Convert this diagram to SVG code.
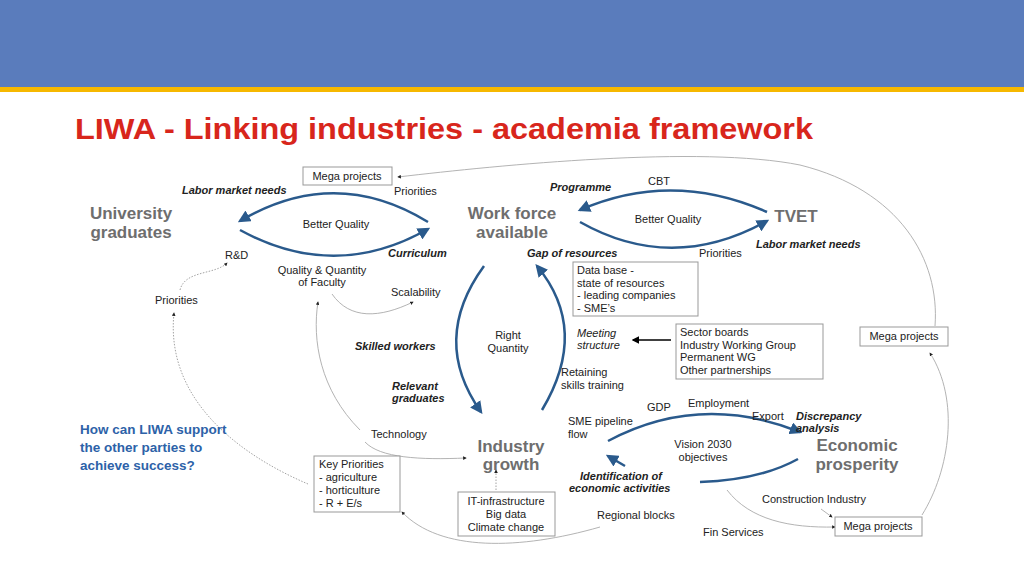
<svg xmlns="http://www.w3.org/2000/svg" width="1024" height="575" viewBox="0 0 1024 575">
<style>
text{font-family:"Liberation Sans",Arial,sans-serif;fill:#222}
.big{font-size:17px;font-weight:bold;fill:#6e6e6e}
.s{font-size:11px}
.bi{font-size:11px;font-weight:bold;font-style:italic}
.it{font-size:11px;font-style:italic}
.box{fill:#fff;stroke:#999;stroke-width:1}
.blue{fill:none;stroke:#2a5a8c;stroke-width:2.5}
.thin{fill:none;stroke:#999;stroke-width:0.9;stroke-dasharray:1.5 1.5}
.thinS{fill:none;stroke:#aaa;stroke-width:0.9}
</style>
<defs>
<marker id="ab" viewBox="0 0 10 10" refX="8" refY="5" markerWidth="5" markerHeight="5" orient="auto"><path d="M0,0L10,5L0,10z" fill="#2a5a8c"/></marker>
<marker id="ad" viewBox="0 0 10 10" refX="8" refY="5" markerWidth="4" markerHeight="4" orient="auto"><path d="M0,0L10,5L0,10z" fill="#222"/></marker>
<marker id="ak" viewBox="0 0 10 10" refX="8" refY="5" markerWidth="5" markerHeight="5" orient="auto"><path d="M0,0L10,5L0,10z" fill="#000"/></marker>
</defs>
<rect width="1024" height="575" fill="#fff"/>
<rect width="1024" height="87" fill="#5a7cbc"/>
<rect y="87" width="1024" height="5" fill="#f6b800"/>
<text x="75" y="139" textLength="738" lengthAdjust="spacingAndGlyphs" style="font-size:29px;font-weight:bold;fill:#d8261c">LIWA - Linking industries - academia framework</text>

<g id="connectors">
<path class="blue" marker-end="url(#ab)" d="M428,222 Q335,165 240,221"/>
<path class="blue" marker-end="url(#ab)" d="M240,230 Q335,282 428,229"/>
<path class="blue" marker-end="url(#ab)" d="M767,212 Q672,170 580,210"/>
<path class="blue" marker-end="url(#ab)" d="M580,222 Q672,274 767,221"/>
<path class="blue" marker-end="url(#ab)" d="M484,266 Q430,340 481,412"/>
<path class="blue" marker-end="url(#ab)" d="M542,410 Q590,330 537,266"/>
<path class="blue" marker-end="url(#ab)" d="M608,441 Q700,392 800,432"/>
<path class="blue" d="M798,459 Q760,480 700,482"/>
<path class="blue" marker-end="url(#ab)" d="M625,466 L608,456"/>
<path d="M671,340 L633,340" stroke="#000" stroke-width="1.5" marker-end="url(#ak)"/>
<path class="thinS" marker-end="url(#ad)" d="M935,326 C940,260 900,190 800,165 C700,145 500,165 398,177"/>
<path class="thinS" marker-end="url(#ad)" d="M922,515 C950,470 960,400 930,353"/>
<path class="thin" marker-end="url(#ad)" d="M180,290 C185,270 215,275 227,263"/>
<path class="thin" marker-end="url(#ad)" d="M308,484 C240,455 165,400 174,313"/>
<path class="thinS" marker-end="url(#ad)" d="M360,430 C320,390 312,340 318,302"/>
<path class="thinS" marker-end="url(#ad)" d="M332,294 C350,320 380,318 413,302"/>
<path class="thinS" marker-end="url(#ad)" d="M365,442 C380,458 420,460 466,458"/>
<path class="thin" marker-end="url(#ad)" d="M496,490 L496,470"/>
<path class="thinS" marker-end="url(#ad)" d="M600,527 C520,550 440,552 402,512"/>
<path class="thinS" marker-end="url(#ad)" d="M727,490 C750,520 790,528 835,527"/>
<path class="thinS" marker-end="url(#ad)" d="M821,509 L832,517"/>
</g>

<g id="university"><text class="big" x="131" y="219" text-anchor="middle">University</text><text class="big" x="131" y="238" text-anchor="middle">graduates</text></g>
<g id="workforce"><text class="big" x="512" y="219" text-anchor="middle">Work force</text><text class="big" x="512" y="238" text-anchor="middle">available</text></g>
<g id="tvet"><text class="big" x="796" y="222" text-anchor="middle">TVET</text></g>
<g id="industry"><text class="big" x="511" y="452" text-anchor="middle">Industry</text><text class="big" x="511" y="470" text-anchor="middle">growth</text></g>
<g id="economic"><text class="big" x="857" y="451" text-anchor="middle">Economic</text><text class="big" x="857" y="470" text-anchor="middle">prosperity</text></g>

<g id="mega1"><rect class="box" x="303" y="167" width="89" height="18"/><text class="s" x="347" y="180" text-anchor="middle">Mega projects</text></g>
<g id="mega2"><rect class="box" x="860" y="327" width="88" height="19"/><text class="s" x="904" y="340" text-anchor="middle">Mega projects</text></g>
<g id="mega3"><rect class="box" x="835" y="517" width="87" height="19"/><text class="s" x="878" y="530" text-anchor="middle">Mega projects</text></g>
<g id="database"><rect class="box" x="573" y="262" width="125" height="54"/><text class="s" x="577" y="274">Data base -</text><text class="s" x="577" y="287">state of resources</text><text class="s" x="577" y="299">- leading companies</text><text class="s" x="577" y="312">- SME’s</text></g>
<g id="sector"><rect class="box" x="676" y="324" width="147" height="55"/><text class="s" x="680" y="336">Sector boards</text><text class="s" x="680" y="349">Industry Working Group</text><text class="s" x="680" y="361">Permanent WG</text><text class="s" x="680" y="374">Other partnerships</text></g>
<g id="keyprio"><rect class="box" x="314" y="456" width="86" height="56"/><text class="s" x="319" y="468">Key Priorities</text><text class="s" x="319" y="481">- agriculture</text><text class="s" x="319" y="494">- horticulture</text><text class="s" x="319" y="507">- R + E/s</text></g>
<g id="itbox"><rect class="box" x="458" y="492" width="97" height="44"/><text class="s" x="506" y="505" text-anchor="middle">IT-infrastructure</text><text class="s" x="506" y="518" text-anchor="middle">Big data</text><text class="s" x="506" y="531" text-anchor="middle">Climate change</text></g>

<g id="labels">
<text class="bi" x="182" y="194">Labor market needs</text>
<text class="s" x="394" y="195">Priorities</text>
<text class="s" x="336" y="228" text-anchor="middle">Better Quality</text>
<text class="bi" x="388" y="257">Curriculum</text>
<text class="s" x="225" y="259">R&amp;D</text>
<text class="s" x="322" y="274" text-anchor="middle">Quality &amp; Quantity</text>
<text class="s" x="322" y="286" text-anchor="middle">of Faculty</text>
<text class="s" x="391" y="296">Scalability</text>
<text class="s" x="155" y="304">Priorities</text>
<text class="bi" x="550" y="191">Programme</text>
<text class="s" x="648" y="185">CBT</text>
<text class="s" x="668" y="223" text-anchor="middle">Better Quality</text>
<text class="bi" x="756" y="248">Labor market needs</text>
<text class="bi" x="527" y="257">Gap of resources</text>
<text class="s" x="699" y="257">Priorities</text>
<text class="s" x="508" y="339" text-anchor="middle">Right</text>
<text class="s" x="508" y="352" text-anchor="middle">Quantity</text>
<text class="bi" x="355" y="350">Skilled workers</text>
<text class="it" x="577" y="337">Meeting</text>
<text class="it" x="577" y="349">structure</text>
<text class="s" x="561" y="376">Retaining</text>
<text class="s" x="561" y="389">skills training</text>
<text class="bi" x="392" y="390">Relevant</text>
<text class="bi" x="392" y="402">graduates</text>
<text class="s" x="371" y="438">Technology</text>
<text class="s" x="647" y="411">GDP</text>
<text class="s" x="688" y="407">Employment</text>
<text class="s" x="752" y="420">Export</text>
<text class="bi" x="796" y="420">Discrepancy</text>
<text class="bi" x="796" y="432">analysis</text>
<text class="s" x="568" y="425">SME pipeline</text>
<text class="s" x="568" y="438">flow</text>
<text class="s" x="703" y="448" text-anchor="middle">Vision 2030</text>
<text class="s" x="703" y="461" text-anchor="middle">objectives</text>
<text class="bi" x="580" y="480">Identification of</text>
<text class="bi" x="569" y="492">economic activities</text>
<text class="s" x="762" y="503">Construction Industry</text>
<text class="s" x="597" y="519">Regional blocks</text>
<text class="s" x="703" y="536">Fin Services</text>
<text x="80" y="434" style="font-size:13.5px;font-weight:bold;fill:#2d62a8">How can LIWA support</text>
<text x="80" y="452" style="font-size:13.5px;font-weight:bold;fill:#2d62a8">the other parties to</text>
<text x="80" y="470" style="font-size:13.5px;font-weight:bold;fill:#2d62a8">achieve success?</text>
</g>
</svg>
